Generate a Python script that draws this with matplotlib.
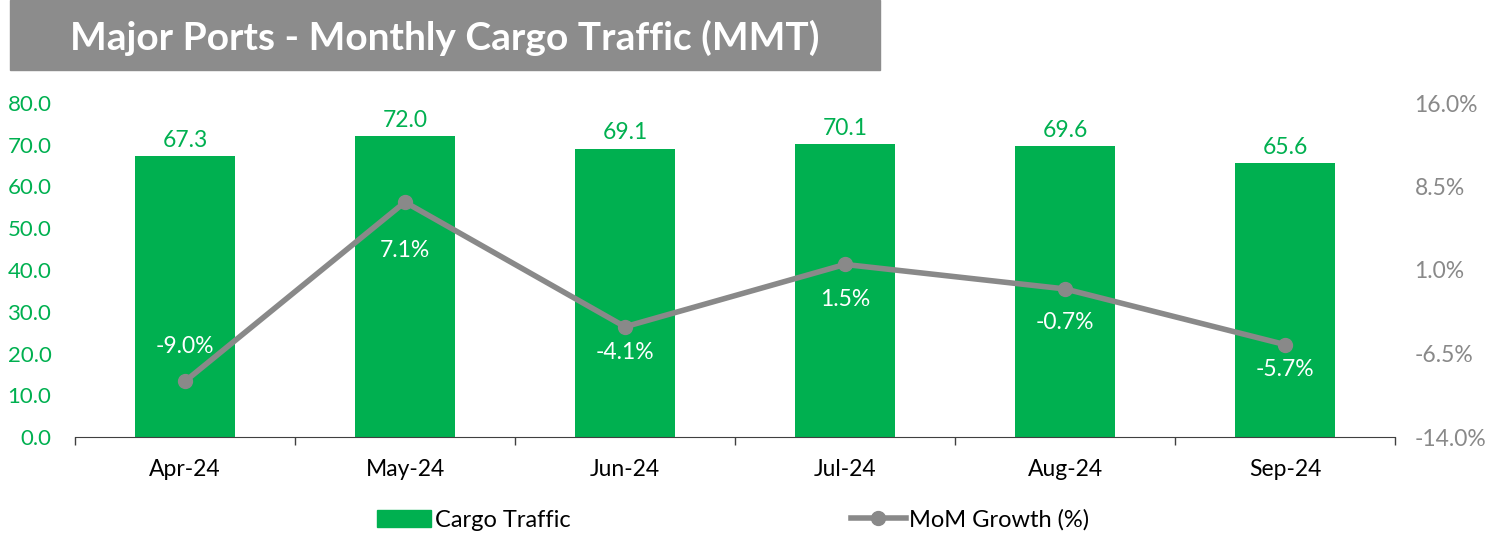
import matplotlib.pyplot as plt
from matplotlib.patches import Rectangle
from matplotlib.lines import Line2D
from matplotlib.patches import Patch

plt.rcParams['font.family'] = ['Lato', 'DejaVu Sans']

months = ['Apr-24', 'May-24', 'Jun-24', 'Jul-24', 'Aug-24', 'Sep-24']
cargo = [67.3, 72.0, 69.1, 70.1, 69.6, 65.6]
growth = [-9.0, 7.1, -4.1, 1.5, -0.7, -5.7]
left_ticks = [0, 10, 20, 30, 40, 50, 60, 70, 80]
right_ticks = [-14.0, -6.5, 1.0, 8.5, 16.0]
# label offsets for the growth labels (pixels, + is above the point)
label_dy = [35, -48, -26, -35, -34, -25]

GREEN = '#00b050'
GRAY = '#898989'

fig = plt.figure(figsize=(14.98, 5.34), dpi=100)
ax = fig.add_axes([75 / 1498, 1 - 437 / 534, 1320 / 1498, 334 / 534])
ax2 = ax.twinx()

x = list(range(len(months)))
ax.bar(x, cargo, width=0.455, color=GREEN, zorder=2)
ax.set_xlim(-0.5, len(months) - 0.5)
ax.set_ylim(0, 80)
ax.set_yticks(left_ticks)
ax.set_yticklabels([f'{v:.1f}' for v in left_ticks])
ax.tick_params(axis='y', colors=GREEN, labelsize=16, length=0, pad=17)
ax.set_xticks(x)
ax.set_xticklabels(months)
ax.tick_params(axis='x', length=0, labelsize=16.5, pad=16)
ax.set_xticks([i - 0.5 for i in range(len(months) + 1)], minor=True)
ax.tick_params(axis='x', which='minor', length=6, color='#404040', width=1)
for s in ['top', 'left', 'right']:
    ax.spines[s].set_visible(False)
ax.spines['bottom'].set_color('#404040')

for xi, v in zip(x, cargo):
    ax.text(xi, v + 1.2, f'{v:.1f}', ha='center', va='bottom', color=GREEN, fontsize=16.5)

ax2.plot(x, growth, color=GRAY, lw=4, marker='o', ms=10, zorder=3)
ax2.set_ylim(-14, 16)
ax2.set_yticks(right_ticks)
ax2.set_yticklabels([f'{v:.1f}%' for v in right_ticks])
ax2.tick_params(axis='y', colors=GRAY, labelsize=16.5, length=0, pad=14)
for s in ['top', 'left', 'right', 'bottom']:
    ax2.spines[s].set_visible(False)

for xi, v, dy in zip(x, growth, label_dy):
    ax2.annotate(f'{v:.1f}%', (xi, v), xytext=(0, dy * 0.72), textcoords='offset points',
                 ha='center', va='center', color='white', fontsize=16.5)

# title banner
fig.patches.append(Rectangle((10 / 1498, 1 - 70 / 534), 870 / 1498, 70 / 534,
                             transform=fig.transFigure, color='#8c8c8c', zorder=0))
fig.text(445 / 1498, 1 - 38 / 534, 'Major Ports - Monthly Cargo Traffic (MMT)',
         ha='center', va='center', color='white', fontsize=28, fontweight='bold')

handles = [Patch(color=GREEN, label='Cargo Traffic'),
           Line2D([], [], color=GRAY, lw=4, marker='o', ms=10, label='MoM Growth (%)')]
fig.legend(handles=handles, loc='center', bbox_to_anchor=(733 / 1498, 1 - 520 / 534),
           ncol=2, frameon=False, fontsize=17, columnspacing=11.9, handlelength=2.3,
           handletextpad=0.15)

fig.savefig('out.png', dpi=100)
